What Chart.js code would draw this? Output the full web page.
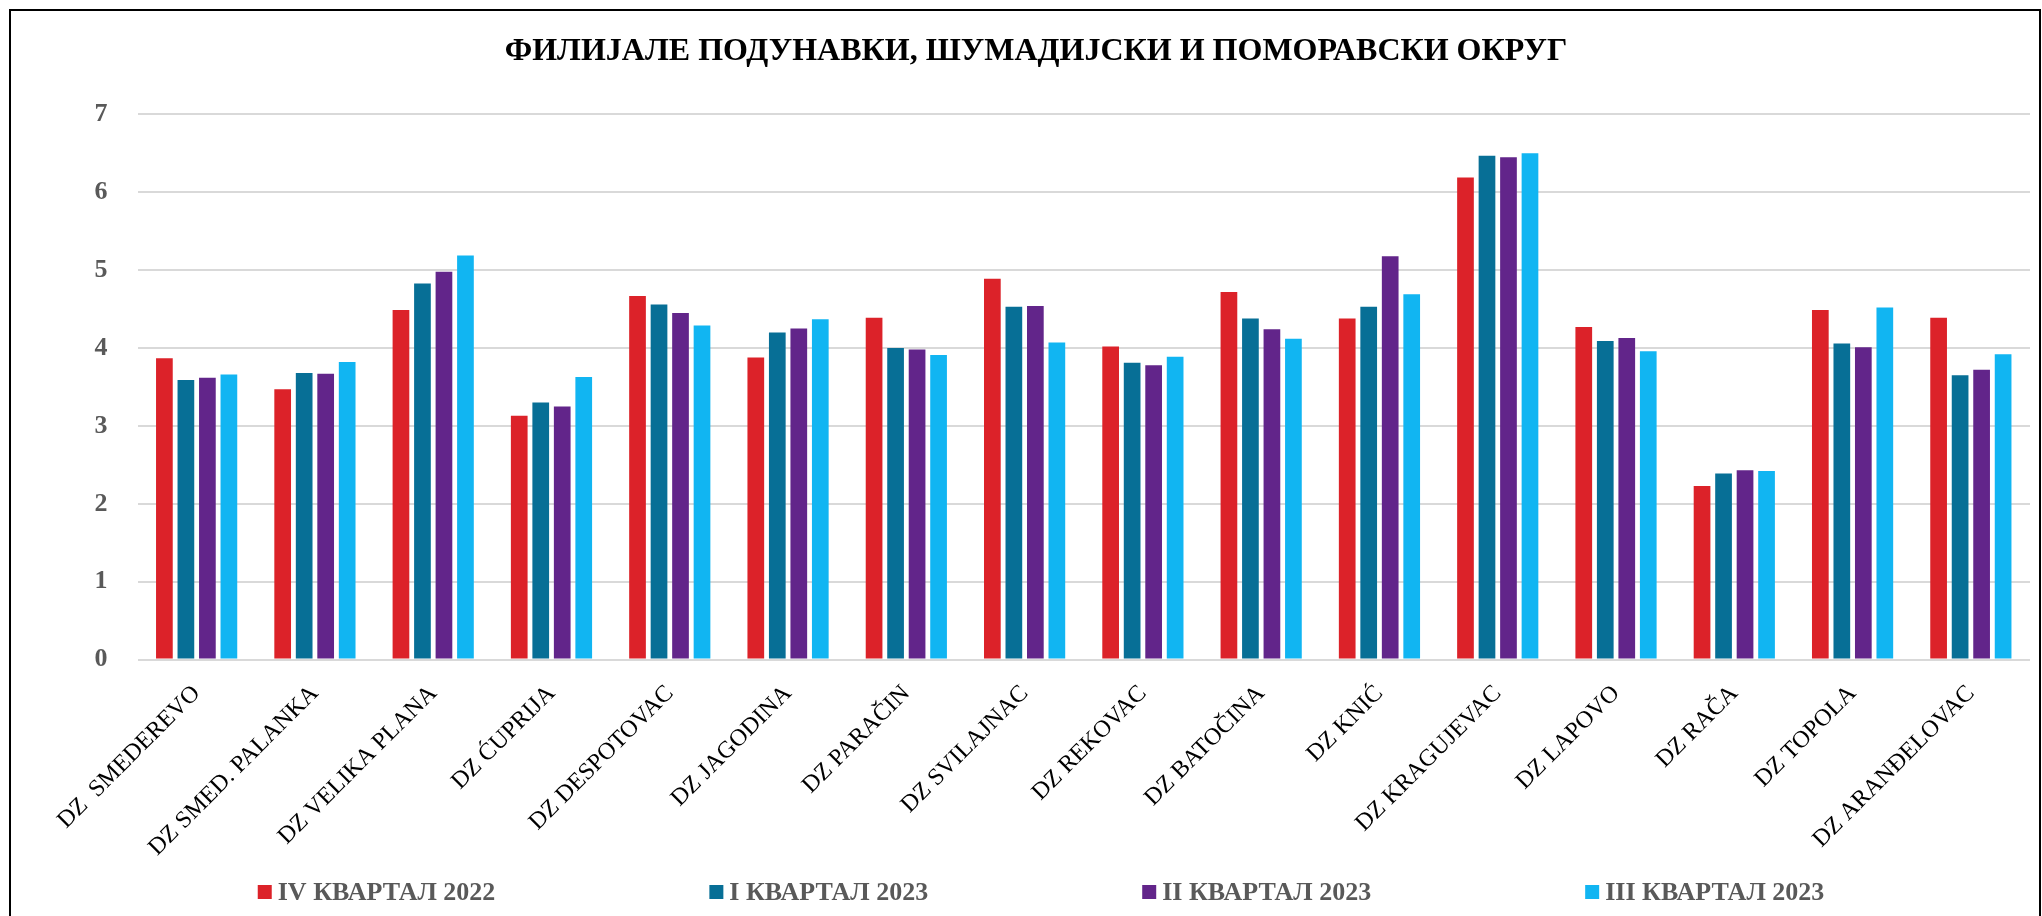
<!DOCTYPE html>
<html>
<head>
<meta charset="utf-8">
<title>Филијале Подунавки, Шумадијски и Поморавски округ</title>
<script src="https://cdn.jsdelivr.net/npm/chart.js@4.4.0/dist/chart.umd.min.js"></script>
<style>
  html, body { margin: 0; padding: 0; background: #fff; overflow: hidden; }
  #wrap { position: relative; width: 2042px; height: 916px; }
  #frame {
    position: absolute; left: 9px; top: 9px; width: 2032px; height: 1000px;
    border: 2px solid #000; box-sizing: border-box; pointer-events: none;
  }
</style>
</head>
<body>
<div id="wrap">
  <canvas id="chart" width="2042" height="916"></canvas>
  <div id="frame"></div>
</div>
<script>
const categories = [
  'DZ  SMEDEREVO', 'DZ SMED. PALANKA', 'DZ VELIKA PLANA', 'DZ ĆUPRIJA',
  'DZ DESPOTOVAC', 'DZ JAGODINA', 'DZ PARAČIN', 'DZ SVILAJNAC',
  'DZ REKOVAC', 'DZ BATOČINA', 'DZ KNIĆ', 'DZ KRAGUJEVAC',
  'DZ LAPOVO', 'DZ RAČA', 'DZ TOPOLA', 'DZ ARANĐELOVAC'
];
const seriesNames = ['IV КВАРТАЛ 2022', 'I КВАРТАЛ 2023', 'II КВАРТАЛ 2023', 'III КВАРТАЛ 2023'];
const q4_2022 = [3.87, 3.47, 4.49, 3.13, 4.67, 3.88, 4.39, 4.89, 4.02, 4.72, 4.38, 6.19, 4.27, 2.23, 4.49, 4.39];
const q1_2023 = [3.59, 3.68, 4.83, 3.30, 4.56, 4.20, 4.00, 4.53, 3.81, 4.38, 4.53, 6.47, 4.09, 2.39, 4.06, 3.65];
const q2_2023 = [3.62, 3.67, 4.98, 3.25, 4.45, 4.25, 3.98, 4.54, 3.78, 4.24, 5.18, 6.45, 4.13, 2.43, 4.01, 3.72];
const q3_2023 = [3.66, 3.82, 5.19, 3.63, 4.29, 4.37, 3.91, 4.07, 3.89, 4.12, 4.69, 6.50, 3.96, 2.42, 4.52, 3.92];
const yTicks = [0, 1, 2, 3, 4, 5, 6, 7];

const colors = ['#dc2229', '#076f96', '#62258a', '#11b5f2'];
const serif = "'Liberation Serif', 'Times New Roman', serif";

// legend drawn by hand so the items can be spread out like the original
const spreadLegend = {
  id: 'spreadLegend',
  afterDraw(chart) {
    const ctx = chart.ctx;
    const box = 14, gap = 6, spacing = 214;
    ctx.save();
    ctx.font = 'bold 26px ' + serif;
    ctx.textBaseline = 'middle';
    ctx.textAlign = 'left';
    const items = chart.data.datasets.map(ds => ({
      text: ds.label, color: ds.backgroundColor, w: ctx.measureText(ds.label).width
    }));
    const total = items.reduce((s, it) => s + box + gap + it.w, 0) + spacing * (items.length - 1);
    let x = chart.width / 2 + 20 - total / 2;
    const y = chart.height - 24;
    items.forEach(it => {
      ctx.fillStyle = it.color;
      ctx.fillRect(x, y - box / 2, box, box);
      ctx.fillStyle = '#595959';
      ctx.fillText(it.text, x + box + gap, y + 1);
      x += box + gap + it.w + spacing;
    });
    ctx.restore();
  }
};

const ctx = document.getElementById('chart').getContext('2d');
new Chart(ctx, {
  type: 'bar',
  data: {
    labels: categories,
    datasets: [q4_2022, q1_2023, q2_2023, q3_2023].map((d, i) => ({
      label: seriesNames[i],
      data: d,
      backgroundColor: colors[i],
      borderWidth: 0,
      categoryPercentage: 0.727,
      barPercentage: 0.777
    }))
  },
  options: {
    responsive: false,
    devicePixelRatio: 1,
    animation: false,
    layout: { padding: { left: 42, right: 12, top: 0, bottom: 42 } },
    plugins: {
      legend: { display: false },
      tooltip: { enabled: false },
      title: {
        display: true,
        text: 'ФИЛИЈАЛЕ ПОДУНАВКИ, ШУМАДИЈСКИ И ПОМОРАВСКИ ОКРУГ',
        color: '#000',
        font: { family: serif, size: 32, weight: 'bold' },
        padding: { top: 33, bottom: 43 }
      }
    },
    scales: {
      x: {
        grid: { display: false },
        border: { display: false },
        ticks: {
          color: '#000',
          font: { family: serif, size: 24 },
          minRotation: 45,
          maxRotation: 45,
          autoSkip: false,
          padding: 12
        }
      },
      y: {
        min: 0,
        max: 7,
        afterBuildTicks(scale) { scale.ticks = yTicks.map(v => ({ value: v })); },
        afterFit(scale) { scale.width = 95.5; },
        grid: { color: '#d9d9d9', lineWidth: 2, drawTicks: false },
        border: { display: false },
        ticks: {
          color: '#595959',
          font: { family: serif, size: 26, weight: 'bold' },
          padding: 30
        }
      }
    }
  },
  plugins: [spreadLegend]
});
</script>
</body>
</html>
